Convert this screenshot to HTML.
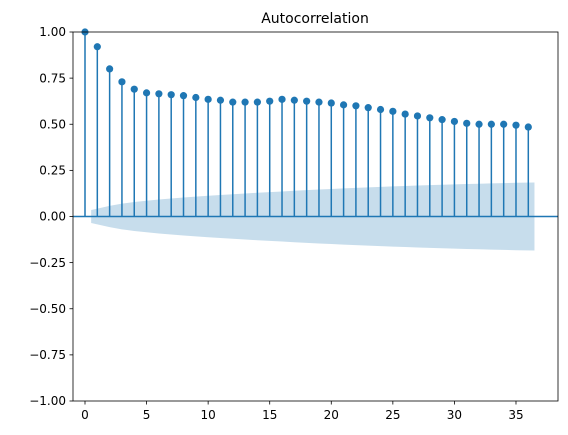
<!DOCTYPE html>
<html><head><meta charset="utf-8"><style>
html,body{margin:0;padding:0;background:#fff;}
svg{display:block;font-family:"DejaVu Sans","Liberation Sans",sans-serif;}
</style></head><body>
<svg id="chart" width="568" height="435">
<text x="315" y="23" font-size="14" text-anchor="middle" fill="#000">Autocorrelation</text>
<g id="band"></g>
<g id="stems"></g>
<g id="axes"></g>
</svg>
<script>
const lags = [0,1,2,3,4,5,6,7,8,9,10,11,12,13,14,15,16,17,18,19,20,21,22,23,24,25,26,27,28,29,30,31,32,33,34,35,36];
const acfValues = [1.0,0.92,0.80,0.73,0.69,0.67,0.665,0.66,0.655,0.645,0.635,0.63,0.62,0.62,0.62,0.625,0.635,0.63,0.625,0.62,0.615,0.605,0.6,0.59,0.58,0.57,0.555,0.545,0.535,0.525,0.515,0.505,0.5,0.5,0.5,0.495,0.485];
const xTicks = [0,5,10,15,20,25,30,35];
const yTicks = [-1.00,-0.75,-0.50,-0.25,0.00,0.25,0.50,0.75,1.00];
const baseSE = 0.035;

const NS="http://www.w3.org/2000/svg";
const L=73,R=558,T=32,B=401;
const xs=v=>85+v*12.314;
const ys=v=>216.5-v*184.5;
function mk(tag,attrs,parent){const e=document.createElementNS(NS,tag);for(const k in attrs)e.setAttribute(k,attrs[k]);parent.appendChild(e);return e;}
const band=document.getElementById('band'),stems=document.getElementById('stems'),axes=document.getElementById('axes');

let up=[],sum=0;
for(let i=1;i<lags.length;i++){
  const se=baseSE*Math.sqrt(1+2*sum);
  up.push([lags[i],se]);
  sum+=acfValues[i]*acfValues[i];
}
up[0][0]-=0.5; up[up.length-1][0]+=0.5;
let d="M"+up.map(p=>xs(p[0])+","+ys(p[1])).join(" L");
d+=" L"+up.slice().reverse().map(p=>xs(p[0])+","+ys(-p[1])).join(" L")+"Z";
const bp=mk('path',{d:d,fill:'#1f77b4','fill-opacity':0.25,stroke:'none'},band);



const zl=mk('line',{x1:L,x2:R,y1:ys(0),y2:ys(0),stroke:'#1f77b4','stroke-width':1.5},stems);



for(let i=0;i<lags.length;i++){
  const x=xs(lags[i]);
  const s=mk('line',{x1:x,x2:x,y1:ys(0),y2:ys(acfValues[i]),stroke:'#1f77b4','stroke-width':1.5},stems);
  
  
  const c=mk('circle',{cx:x,cy:ys(acfValues[i]),r:3.6,fill:'#1f77b4'},stems);
  
  
}

const fr=mk('rect',{x:L,y:T,width:R-L,height:B-T,fill:'none',stroke:'#000','stroke-width':0.8},axes);



xTicks.forEach(v=>{
  const x=xs(v);
  const t=mk('line',{x1:x,x2:x,y1:B,y2:B+3.5,stroke:'#000','stroke-width':0.8},axes);
  
  
  const tx=mk('text',{x:x,y:B+18,'font-size':12,'text-anchor':'middle',fill:'#000'},axes);
  tx.textContent=v;
  
  
});
yTicks.forEach(v=>{
  const y=ys(v);
  const t=mk('line',{x1:L-3.5,x2:L,y1:y,y2:y,stroke:'#000','stroke-width':0.8},axes);
  
  
  const tx=mk('text',{x:L-7,y:y+4.2,'font-size':12,'text-anchor':'end',fill:'#000'},axes);
  tx.textContent=(v<0?'\u2212':'')+Math.abs(v).toFixed(2);
  
  
});
</script>
</body></html>
